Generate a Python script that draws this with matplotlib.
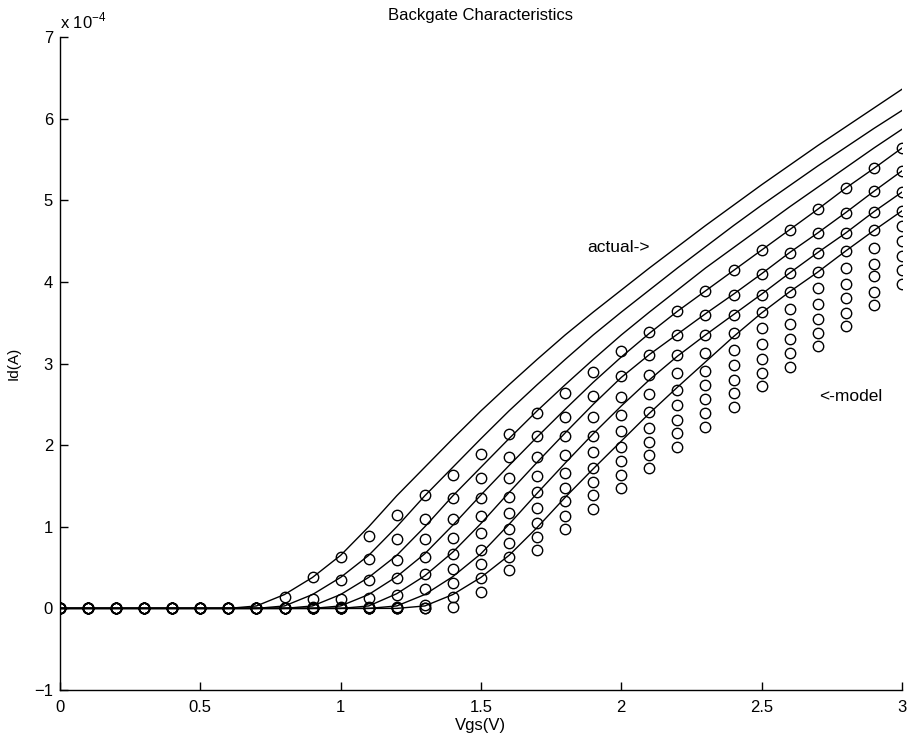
import numpy as np
import matplotlib.pyplot as plt

plt.rcParams['font.family'] = ['Liberation Sans', 'DejaVu Sans']
plt.rcParams['mathtext.fontset'] = 'custom'
plt.rcParams['mathtext.rm'] = 'Liberation Sans'

# gate voltage grid (V)
VGS = [round(0.1 * i, 1) for i in range(31)]

# model points, Id in units of 1e-4 A, one list per back-gate bias
MODEL = [
    [0] * 8 + [0.14, 0.38, 0.63, 0.89, 1.15, 1.39, 1.64, 1.89, 2.14, 2.39, 2.64, 2.90,
               3.15, 3.39, 3.64, 3.89, 4.14, 4.39, 4.64, 4.89, 5.15, 5.39, 5.64],
    [0] * 9 + [0.12, 0.35, 0.60, 0.85, 1.09, 1.35, 1.60, 1.85, 2.11, 2.35, 2.60,
               2.85, 3.11, 3.35, 3.60, 3.84, 4.10, 4.36, 4.60, 4.85, 5.11, 5.36],
    [0] * 9 + [0.02, 0.12, 0.35, 0.59, 0.85, 1.09, 1.35, 1.60, 1.85, 2.11, 2.35,
               2.59, 2.86, 3.11, 3.35, 3.60, 3.84, 4.11, 4.36, 4.60, 4.86, 5.10],
    [0] * 10 + [0.02, 0.13, 0.37, 0.63, 0.86, 1.13, 1.37, 1.62, 1.88, 2.11, 2.37,
                2.63, 2.88, 3.13, 3.37, 3.63, 3.88, 4.12, 4.38, 4.63, 4.87],
    [0] * 11 + [0.02, 0.17, 0.42, 0.67, 0.92, 1.17, 1.42, 1.66, 1.91, 2.17, 2.41,
                2.67, 2.91, 3.17, 3.43, 3.67, 3.92, 4.17, 4.42, 4.68],
    [0] * 12 + [0.02, 0.24, 0.48, 0.72, 0.97, 1.23, 1.47, 1.72, 1.98, 2.21, 2.49,
                2.74, 2.98, 3.24, 3.48, 3.73, 3.98, 4.22, 4.50],
    [0] * 13 + [0.04, 0.31, 0.55, 0.80, 1.05, 1.31, 1.55, 1.80, 2.04, 2.31, 2.56,
                2.80, 3.05, 3.30, 3.55, 3.80, 4.07, 4.32],
    [0] * 14 + [0.14, 0.37, 0.63, 0.88, 1.13, 1.39, 1.64, 1.88, 2.15, 2.39, 2.64,
                2.88, 3.13, 3.38, 3.62, 3.88, 4.14],
    [0] * 14 + [0.02, 0.20, 0.47, 0.72, 0.97, 1.22, 1.47, 1.72, 1.98, 2.22, 2.47,
                2.73, 2.96, 3.22, 3.46, 3.72, 3.98],
]

# measured curves, Id in units of 1e-4 A
ACTUAL = [
    [0] * 7 + [0.03, 0.17, 0.38, 0.65, 1.00, 1.38, 1.73, 2.08, 2.42, 2.74, 3.05, 3.35,
               3.63, 3.90, 4.17, 4.43, 4.69, 4.94, 5.19, 5.43, 5.67, 5.90, 6.13, 6.36],
    [0] * 8 + [0.03, 0.17, 0.38, 0.65, 1.00, 1.38, 1.73, 2.08, 2.42, 2.74, 3.05,
               3.35, 3.63, 3.90, 4.17, 4.43, 4.69, 4.94, 5.18, 5.42, 5.65, 5.88, 6.10],
    [0] * 9 + [0.03, 0.17, 0.38, 0.65, 1.00, 1.38, 1.73, 2.08, 2.42, 2.74, 3.05,
               3.35, 3.63, 3.90, 4.17, 4.42, 4.67, 4.92, 5.16, 5.40, 5.64, 5.87],
    [0] * 10 + [0.03, 0.17, 0.39, 0.67, 1.02, 1.39, 1.75, 2.10, 2.44, 2.77, 3.08,
                3.37, 3.64, 3.89, 4.14, 4.39, 4.64, 4.89, 5.15, 5.39, 5.64],
    [0] * 11 + [0.03, 0.18, 0.40, 0.69, 1.04, 1.42, 1.79, 2.15, 2.50, 2.83, 3.11,
                3.36, 3.61, 3.85, 4.10, 4.36, 4.60, 4.85, 5.11, 5.36],
    [0] * 12 + [0.03, 0.17, 0.39, 0.67, 1.03, 1.41, 1.78, 2.14, 2.48, 2.80, 3.09,
                3.35, 3.60, 3.85, 4.11, 4.36, 4.60, 4.86, 5.10],
    [0] * 13 + [0.03, 0.17, 0.38, 0.65, 0.99, 1.36, 1.71, 2.05, 2.39, 2.71, 3.02,
                3.33, 3.62, 3.88, 4.12, 4.38, 4.63, 4.87],
]

fig = plt.figure(figsize=(9.17, 7.51), dpi=100)
ax = fig.add_axes([0.0654, 0.0812, 0.9182, 0.8695])

for curve in ACTUAL:
    ax.plot(VGS, curve, color='black', linewidth=1.0)
for series in MODEL:
    ax.plot(VGS, series, linestyle='none', marker='o', markersize=7.5,
            markerfacecolor='none', markeredgecolor='black', markeredgewidth=1.0)

ax.set_xlim(0, 3)
ax.set_ylim(-1, 7)
ax.set_xticks([0, 0.5, 1, 1.5, 2, 2.5, 3])
ax.set_xticklabels(['0', '0.5', '1', '1.5', '2', '2.5', '3'])
ax.set_yticks(range(-1, 8))
ax.tick_params(direction='in', length=6, width=1.0, labelsize=12)
ax.tick_params(axis='x', pad=7)
ax.tick_params(axis='y', pad=5)
ax.spines['top'].set_visible(False)
ax.spines['right'].set_visible(False)
for side in ['left', 'bottom']:
    ax.spines[side].set_linewidth(1.0)

ax.set_title('Backgate Characteristics', fontsize=12, pad=12)
ax.set_xlabel('Vgs(V)', fontsize=12, labelpad=2)
ax.set_ylabel('Id(A)', fontsize=11, labelpad=10)
ax.text(0.0, 1.0138, r'x 10$^{-4}$', transform=ax.transAxes, fontsize=12,
        ha='left', va='baseline')

ax.text(1.877, 4.42, 'actual->', fontsize=12.5, ha='left', va='center')
ax.text(2.705, 2.60, '<-model', fontsize=12.5, ha='left', va='center')

fig.savefig('out.png', dpi=100)
